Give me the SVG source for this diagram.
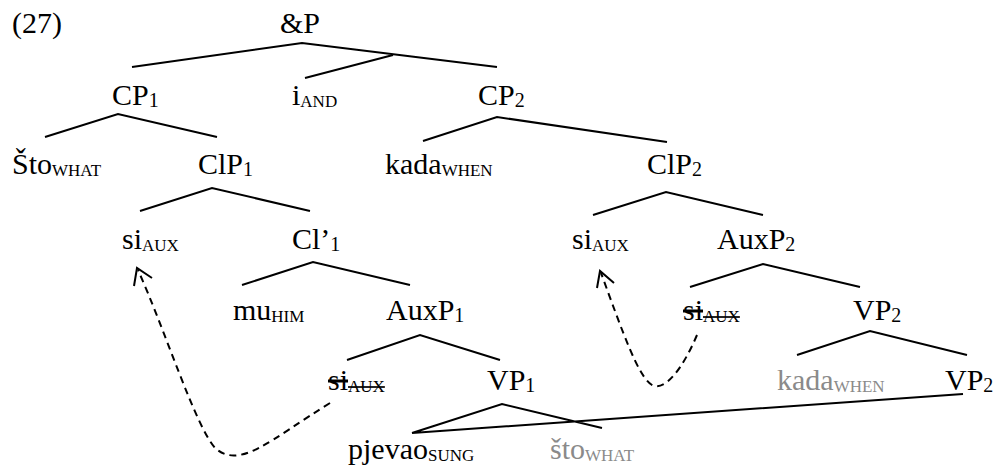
<svg xmlns="http://www.w3.org/2000/svg" width="998" height="471" viewBox="0 0 998 471" font-family="'Liberation Serif', 'Times New Roman', serif">
<style>
text{font-family:'Liberation Serif','Times New Roman',serif;font-size:30px;fill:#000}
.g{fill:#8a8a8a}
.sc{font-size:17px}
.sn{font-size:20px}
.st{text-decoration:line-through}
.tree{fill:none;stroke:#000;stroke-width:2}
.mv{fill:none;stroke:#000;stroke-width:2;stroke-dasharray:7 5}
.ah{fill:none;stroke:#000;stroke-width:2}
</style>
<rect width="998" height="471" fill="#fff"/>
<g id="connectors">
<path class="tree" d="M132 67 L302 43 L497 67 M393 55 L305 78"/>
<path class="tree" d="M45 137 L118 114 L217 137"/>
<path class="tree" d="M423 141 L497 117 L667 142"/>
<path class="tree" d="M140 211 L212 188 L310 211"/>
<path class="tree" d="M593 215 L666 192 L763 215"/>
<path class="tree" d="M242 285 L313 262 L410 285"/>
<path class="tree" d="M690 287 L763 264 L860 287"/>
<path class="tree" d="M347 360 L420 335 L500 360"/>
<path class="tree" d="M797 355 L870 331 L967 355"/>
<path class="tree" d="M412 433 L502 404 L602 428 M412 433 L963 394"/>
<path class="mv" d="M330 403 C270 440 240 470 215 448 C195 425 165 330 138 270"/>
<path class="ah" d="M134 286 L137 268 L152 278"/>
<path class="mv" d="M697 335 C683 368 665 392 652 385 C638 377 622 330 601 273"/>
<path class="ah" d="M597 288 L600 271 L614 283"/>
</g>
<g id="label27"><text x="12" y="33">(27)</text></g>
<g id="andP"><text x="280" y="33">&amp;P</text></g>
<g id="cp1"><text x="112" y="105">CP<tspan class="sn" dy="2">1</tspan></text></g>
<g id="iand"><text x="292" y="105">i<tspan class="sc" dy="2">AND</tspan></text></g>
<g id="cp2"><text x="478" y="105">CP<tspan class="sn" dy="2">2</tspan></text></g>
<g id="sto"><text x="12" y="174">Što<tspan class="sc" dy="2">WHAT</tspan></text></g>
<g id="clp1"><text x="198" y="174">ClP<tspan class="sn" dy="2">1</tspan></text></g>
<g id="kada1"><text x="385" y="174">kada<tspan class="sc" dy="2">WHEN</tspan></text></g>
<g id="clp2"><text x="647" y="174">ClP<tspan class="sn" dy="2">2</tspan></text></g>
<g id="si1"><text x="122" y="249">si<tspan class="sc" dy="2">AUX</tspan></text></g>
<g id="clbar1"><text x="292" y="249">Cl’<tspan class="sn" dy="2">1</tspan></text></g>
<g id="si2"><text x="572" y="249">si<tspan class="sc" dy="2">AUX</tspan></text></g>
<g id="auxp2"><text x="717" y="249">AuxP<tspan class="sn" dy="2">2</tspan></text></g>
<g id="mu"><text x="233" y="320">mu<tspan class="sc" dy="2">HIM</tspan></text></g>
<g id="auxp1"><text x="386" y="320">AuxP<tspan class="sn" dy="2">1</tspan></text></g>
<g id="si2t"><text x="683" y="320"><tspan class="st">si</tspan><tspan class="sc st" dy="2">AUX</tspan></text></g>
<g id="vp2a"><text x="853" y="320">VP<tspan class="sn" dy="2">2</tspan></text></g>
<g id="si1t"><text x="328" y="390"><tspan class="st">si</tspan><tspan class="sc st" dy="2">AUX</tspan></text></g>
<g id="vp1"><text x="487" y="390">VP<tspan class="sn" dy="2">1</tspan></text></g>
<g id="kada2"><text class="g" x="777" y="390">kada<tspan class="sc" dy="2">WHEN</tspan></text></g>
<g id="vp2b"><text x="945" y="390">VP<tspan class="sn" dy="2">2</tspan></text></g>
<g id="pjevao"><text x="348" y="459">pjevao<tspan class="sc" dy="2">SUNG</tspan></text></g>
<g id="sto2"><text class="g" x="550" y="459">što<tspan class="sc" dy="2">WHAT</tspan></text></g>
</svg>
